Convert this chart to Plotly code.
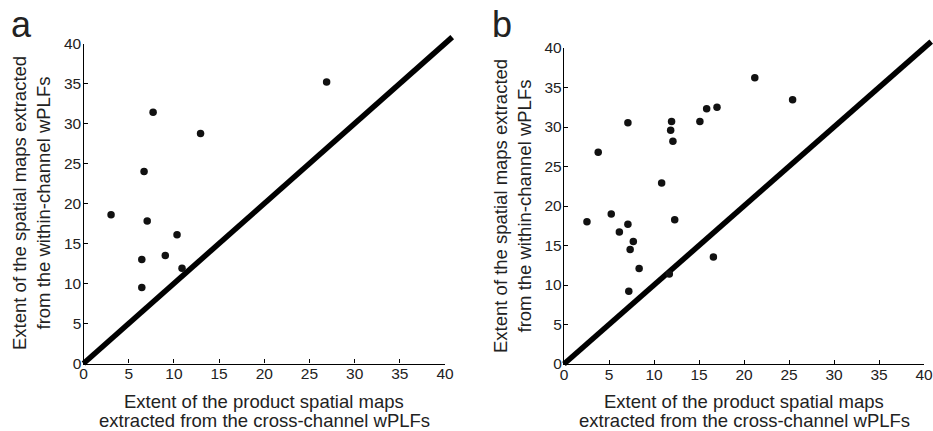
import plotly.graph_objects as go

# ---------------- data ----------------
a_cross = [26.9, 7.7, 12.95, 6.7, 3.05, 7.05, 10.35, 9.05, 6.45, 10.9, 6.45]
a_within = [35.2, 31.4, 28.75, 24.0, 18.6, 17.8, 16.1, 13.5, 13.0, 11.9, 9.5]

b_cross = [21.2, 25.4, 17.0, 15.85, 15.1, 11.95, 7.1, 11.85, 12.1, 3.8, 10.85,
           5.25, 2.55, 12.3, 7.1, 6.15, 7.7, 7.35, 8.35, 11.7, 16.6, 7.2]
b_within = [36.25, 33.45, 32.5, 32.3, 30.7, 30.7, 30.55, 29.6, 28.2, 26.8, 22.9,
            19.0, 18.0, 18.25, 17.7, 16.7, 15.5, 14.5, 12.1, 11.4, 13.55, 9.2]

diag = [0, 40.8]
tick_vals = [0, 5, 10, 15, 20, 25, 30, 35, 40]
tick_text = [str(v) for v in tick_vals]

x_title_lines = ["Extent of the product spatial maps",
                 "extracted from the cross-channel wPLFs"]
y_title_lines = ["Extent of the spatial maps extracted",
                 "from the within-channel wPLFs"]
panel_labels = ["a", "b"]

# ---------------- layout geometry ----------------
W, H = 933, 431
FONT = "Liberation Sans, Arial, Helvetica, sans-serif"
TXT = "#222222"
AX_RANGE = [0, 40]
LINE_RANGE = [-1.0, 41.5]

# visible plot areas (pixels: left, right, top, bottom)
areas = [(83.5, 445.0, 43.5, 363.5), (564.0, 924.0, 48.0, 364.0)]


def dom_x(a):
    return [a[0] / W, a[1] / W]


def dom_y(a):
    return [1 - a[3] / H, 1 - a[2] / H]


def ext_axis(dom, rng, new_rng):
    """Extended domain/range with the same scale, clamped to the paper."""
    per = (dom[1] - dom[0]) / (rng[1] - rng[0])
    d0 = max(0.0, dom[0] + (new_rng[0] - rng[0]) * per)
    d1 = min(1.0, dom[0] + (new_rng[1] - rng[0]) * per)
    r0 = rng[0] + (d0 - dom[0]) / per
    r1 = rng[0] + (d1 - dom[0]) / per
    return dict(domain=[d0, d1], range=[r0, r1])


fig = go.Figure()

# diagonal identity lines on (invisible) extended axes so they are not clipped
fig.add_trace(go.Scatter(x=diag, y=diag, mode="lines", xaxis="x", yaxis="y",
                         line=dict(color="black", width=5.5), hoverinfo="skip",
                         showlegend=False))
fig.add_trace(go.Scatter(x=diag, y=diag, mode="lines", xaxis="x2", yaxis="y2",
                         line=dict(color="black", width=5.5), hoverinfo="skip",
                         showlegend=False))

# scatter points on the visible axes
fig.add_trace(go.Scatter(x=a_cross, y=a_within, mode="markers", xaxis="x3", yaxis="y3",
                         marker=dict(color="#111111", size=7.5), showlegend=False))
fig.add_trace(go.Scatter(x=b_cross, y=b_within, mode="markers", xaxis="x4", yaxis="y4",
                         marker=dict(color="#111111", size=7.5), showlegend=False))

hidden = dict(visible=False, showgrid=False, zeroline=False, fixedrange=True)

vis_common = dict(
    range=AX_RANGE, showgrid=False, zeroline=False, showline=True,
    linecolor="black", linewidth=1.3, ticks="inside", ticklen=4, tickwidth=1,
    tickcolor="black", tickvals=tick_vals, ticktext=tick_text,
    tickfont=dict(family=FONT, size=15.5, color=TXT), automargin=False,
    mirror=False,
)
vis_x = dict(vis_common, ticklabelstandoff=-4)
vis_y = dict(vis_common, ticklabelstandoff=-2)

annotations = []
title_font = dict(family=FONT, size=18.5, color=TXT)
for i, a in enumerate(areas):
    cx = (a[0] + a[1]) / 2
    cy = (a[2] + a[3]) / 2
    # x-axis title (two lines)
    for line, ypix in zip(x_title_lines, [401.5, 420.5]):
        annotations.append(dict(text=line, x=cx / W, y=1 - ypix / H, xref="paper", yref="paper",
                                xanchor="center", yanchor="middle", showarrow=False,
                                borderpad=0, font=title_font))
    # y-axis title (two lines, rotated)
    for line, xoff in zip(y_title_lines, [64.0, 40.5]):
        annotations.append(dict(text=line, x=(a[0] - xoff) / W, y=1 - cy / H,
                                xref="paper", yref="paper", textangle=-90,
                                xanchor="center", yanchor="middle", showarrow=False,
                                borderpad=0, font=title_font))
    # panel letter
    annotations.append(dict(text=panel_labels[i], x=(a[0] - 62.5) / W, y=1 - 24 / H,
                            xref="paper", yref="paper", xanchor="center", yanchor="middle",
                            showarrow=False, font=dict(family=FONT, size=36, color=TXT)))

fig.update_layout(
    width=W, height=H, margin=dict(l=0, r=0, t=0, b=0),
    paper_bgcolor="white", plot_bgcolor="rgba(0,0,0,0)",
    showlegend=False,
    xaxis=dict(hidden, **ext_axis(dom_x(areas[0]), AX_RANGE, LINE_RANGE), anchor="y"),
    yaxis=dict(hidden, **ext_axis(dom_y(areas[0]), AX_RANGE, LINE_RANGE), anchor="x"),
    xaxis2=dict(hidden, **ext_axis(dom_x(areas[1]), AX_RANGE, LINE_RANGE), anchor="y2"),
    yaxis2=dict(hidden, **ext_axis(dom_y(areas[1]), AX_RANGE, LINE_RANGE), anchor="x2"),
    xaxis3=dict(vis_x, domain=dom_x(areas[0]), anchor="y3"),
    yaxis3=dict(vis_y, domain=dom_y(areas[0]), anchor="x3"),
    xaxis4=dict(vis_x, domain=dom_x(areas[1]), anchor="y4"),
    yaxis4=dict(vis_y, domain=dom_y(areas[1]), anchor="x4"),
    annotations=annotations,
)

fig.write_html("out.html")
